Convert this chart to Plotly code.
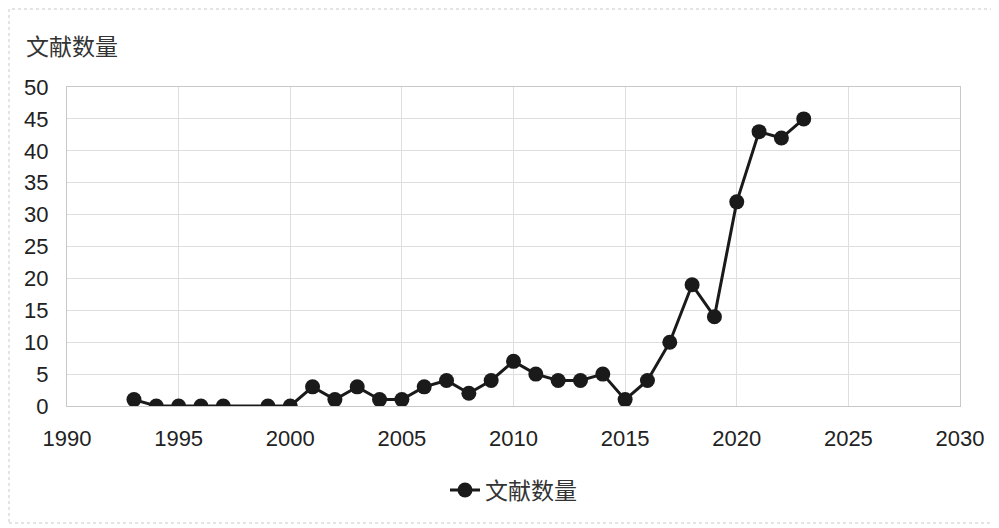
import plotly.graph_objects as go

# Data
years = [1993, 1994, 1995, 1996, 1997, 1999, 2000, 2001, 2002, 2003,
         2004, 2005, 2006, 2007, 2008, 2009, 2010, 2011, 2012, 2013,
         2014, 2015, 2016, 2017, 2018, 2019, 2020, 2021, 2022, 2023]
counts = [1, 0, 0, 0, 0, 0, 0, 3, 1, 3,
          1, 1, 3, 4, 2, 4, 7, 5, 4, 4,
          5, 1, 4, 10, 19, 14, 32, 43, 42, 45]
series_name = "文献数量"
x_ticks = [1990, 1995, 2000, 2005, 2010, 2015, 2020, 2025, 2030]
y_ticks = [0, 5, 10, 15, 20, 25, 30, 35, 40, 45, 50]

# page body adds an 8px offset, so work in shifted pixel coordinates
OFF = 8
W, H = 999 - OFF, 528 - OFF
L, R, T, B = 67 - OFF, 39, 87 - OFF, 122
pw, ph = W - L - R, H - T - B


def px_x(x):
    return (x - OFF - L) / pw


def px_y(y):
    return (H - B - (y - OFF)) / ph


cjk = "Noto Sans CJK SC, sans-serif"
latin = "Liberation Sans, Arial, sans-serif"

fig = go.Figure()
fig.add_trace(go.Scatter(
    x=years, y=counts, name=series_name, mode="lines+markers",
    line=dict(color="#1a1a1a", width=3),
    marker=dict(color="#1a1a1a", size=15),
))

fig.update_layout(
    width=W, height=H,
    margin=dict(l=L, r=R, t=T, b=B, autoexpand=False),
    paper_bgcolor="white", plot_bgcolor="white",
    showlegend=True,
    legend=dict(orientation="h", x=0.5, xanchor="center",
                y=px_y(490), yanchor="middle",
                font=dict(family=cjk, size=23, color="#333")),
    font=dict(family=latin, size=22, color="#222"),
)
fig.update_xaxes(range=[1990, 2030], tickvals=x_ticks, showgrid=True,
                 gridcolor="#dedede", gridwidth=1, zeroline=False,
                 showline=True, linecolor="#c8c8c8", mirror=True,
                 ticks="", ticklabelstandoff=13, tickfont=dict(size=22))
fig.update_yaxes(range=[0, 50], tickvals=y_ticks, showgrid=True,
                 gridcolor="#dedede", gridwidth=1, zeroline=False,
                 showline=True, linecolor="#c8c8c8", mirror=True,
                 ticks="", ticklabelstandoff=13, tickfont=dict(size=22))

fig.add_annotation(text=series_name, xref="paper", yref="paper",
                   x=px_x(24), y=px_y(45), xanchor="left", yanchor="middle",
                   showarrow=False, font=dict(family=cjk, size=23, color="#333"))

# dashed outer frame, kept inside the figure canvas
fig.add_shape(type="rect", xref="paper", yref="paper",
              x0=px_x(OFF + 1), x1=px_x(994), y0=px_y(523), y1=px_y(OFF + 1),
              line=dict(color="#c8c8c8", width=1, dash="dot"))

fig.write_html("out.html")
